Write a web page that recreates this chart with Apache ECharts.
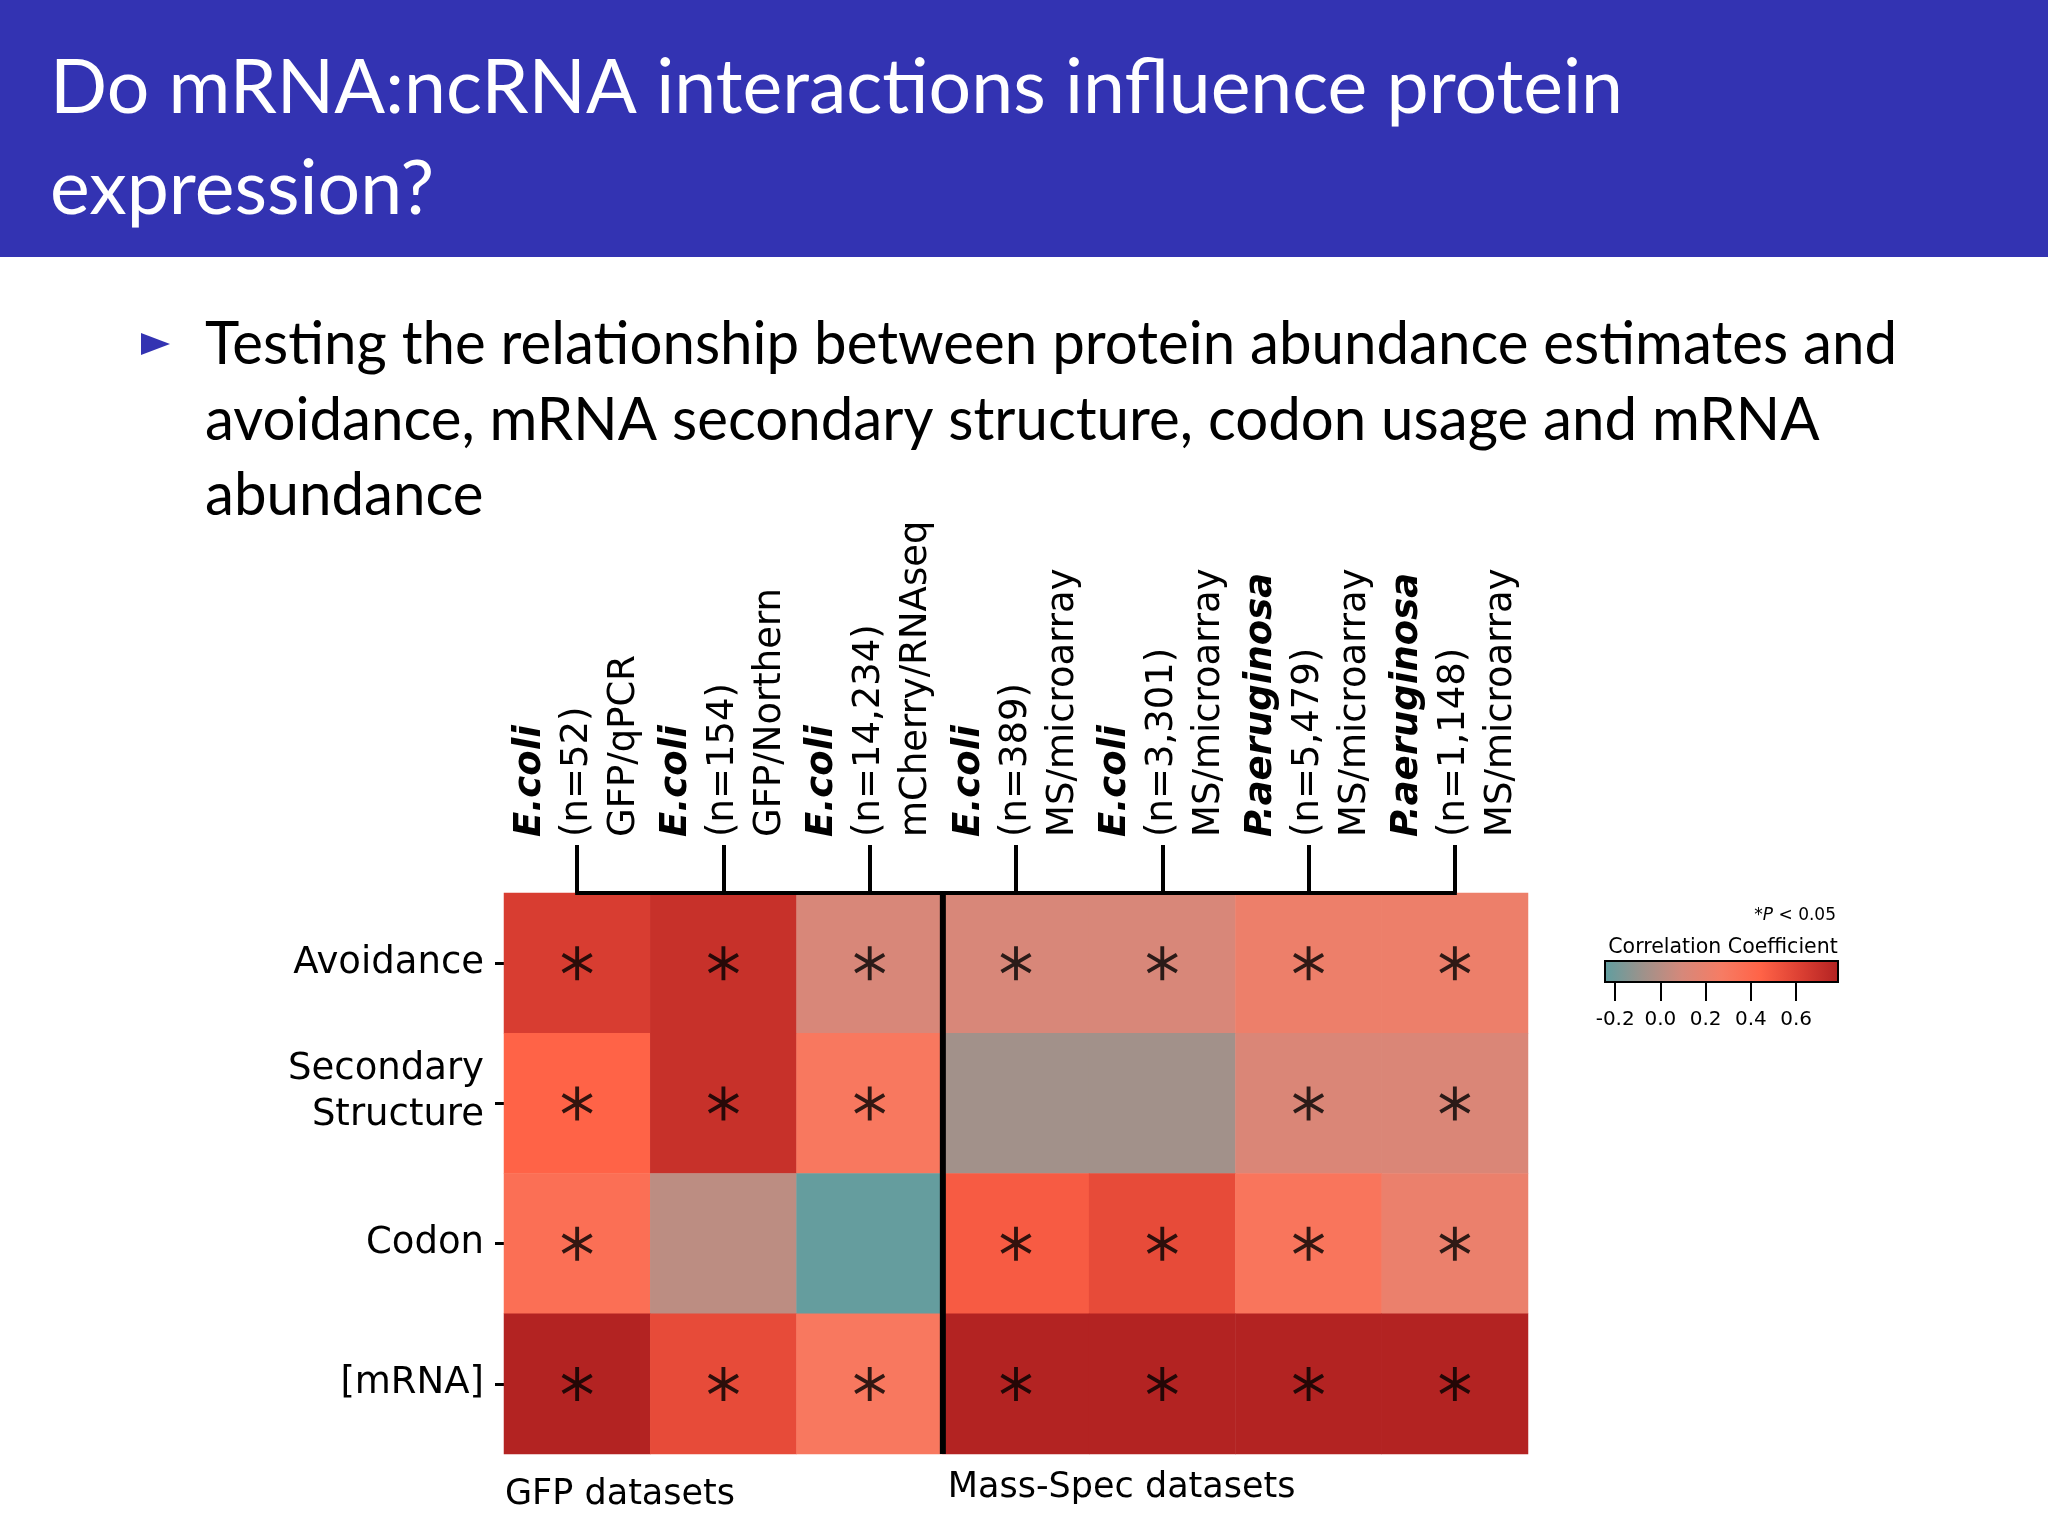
<!DOCTYPE html>
<html>
<head>
<meta charset="utf-8">
<script src="https://cdn.jsdelivr.net/npm/echarts@6/dist/echarts.min.js"></script>
<style>
html,body{margin:0;padding:0;background:#fff;}
#chart{width:2048px;height:1536px;}
</style>
</head>
<body>
<div id="chart"></div>
<script>
// ---------- data ----------
const titleLines = ['Do mRNA:ncRNA interactions influence protein', 'expression?'];
const bulletLines = [
  'Testing the relationship between protein abundance estimates and',
  'avoidance, mRNA secondary structure, codon usage and mRNA',
  'abundance'
];
const rowLabels = ['Avoidance', 'Secondary\nStructure', 'Codon', '[mRNA]'];
const species = ['E.coli', 'E.coli', 'E.coli', 'E.coli', 'E.coli', 'P.aeruginosa', 'P.aeruginosa'];
const sampleSizes = ['(n=52)', '(n=154)', '(n=14,234)', '(n=389)', '(n=3,301)', '(n=5,479)', '(n=1,148)'];
const methods = ['GFP/qPCR', 'GFP/Northern', 'mCherry/RNAseq', 'MS/microarray', 'MS/microarray', 'MS/microarray', 'MS/microarray'];

const corrAvoidance = [0.63, 0.70, 0.11, 0.11, 0.11, 0.22, 0.22];
const corrSecondary = [0.44, 0.70, 0.30, -0.06, -0.06, 0.12, 0.12];
const corrCodon     = [0.36, 0.02, -0.23, 0.48, 0.56, 0.32, 0.21];
const corrMRNA      = [0.78, 0.56, 0.30, 0.78, 0.78, 0.78, 0.78];

const sigAvoidance = [1, 1, 1, 1, 1, 1, 1];
const sigSecondary = [1, 1, 1, 0, 0, 1, 1];
const sigCodon     = [1, 0, 0, 1, 1, 1, 1];
const sigMRNA      = [1, 1, 1, 1, 1, 1, 1];

const groupLabels = ['GFP datasets', 'Mass-Spec datasets'];
const groupSizes = [3, 4];

const cbarRange = [-0.245, 0.785];
const cbarTicks = [-0.2, 0.0, 0.2, 0.4, 0.6];
const cmapColors = ['#5F9EA0', '#9E928B', '#D6887A', '#F67C64', '#FF6347', '#DC4033', '#B22222'];

// ---------- build ----------
const corrRows = [corrAvoidance, corrSecondary, corrCodon, corrMRNA];
const sigRows = [sigAvoidance, sigSecondary, sigCodon, sigMRNA];
const heatData = [];
const starData = [];
corrRows.forEach((row, r) => row.forEach((v, c) => {
  heatData.push([c, r, v]);
  if (sigRows[r][c]) starData.push([c, r]);
}));
const colNames = species.map((s, i) => s + ' ' + sampleSizes[i]);
const lastRow = rowLabels.length - 1;
const groupStarts = [];
let acc = 0;
groupSizes.forEach(g => { groupStarts.push([acc, lastRow]); acc += g; });

const starPath = 'path://M-1.15,-10 L1.15,-10 L1.15,10 L-1.15,10 Z ' +
  'M8.08,-6.0 L9.24,-4.0 L-8.08,6.0 L-9.24,4.0 Z ' +
  'M-9.24,-4.0 L-8.08,-6.0 L9.24,4.0 L8.08,6.0 Z';

function measure(text, font) {
  const ctx = document.createElement('canvas').getContext('2d');
  ctx.font = font;
  return ctx.measureText(text).width;
}
const titleSize = 76, bulletSize = 60, slideFont = 'Lato';
const titleScale = 1573 / measure(titleLines[0], titleSize + 'px ' + slideFont);
const bulletScale = 1692 / measure(bulletLines[0], bulletSize + 'px ' + slideFont);

const graphics = [
  { type: 'rect', shape: { x: 0, y: 0, width: 2048, height: 257 }, style: { fill: '#3333B2' }, z: 0 },
  { type: 'polygon', shape: { points: [[141, 333], [170, 344], [141, 355]] }, style: { fill: '#3333B2' } }
];
const titleBaselines = [114, 215];
titleLines.forEach((t, i) => graphics.push({
  type: 'text', x: 50, y: titleBaselines[i] - 0.33 * titleSize, scaleX: titleScale,
  style: { text: t, fontSize: titleSize, fontFamily: slideFont, fill: '#fff', textVerticalAlign: 'middle' }
}));
const bulletBaselines = [364, 440, 515];
bulletLines.forEach((t, i) => graphics.push({
  type: 'text', x: 205, y: bulletBaselines[i] - 0.33 * bulletSize, scaleX: bulletScale,
  style: { text: t, fontSize: bulletSize, fontFamily: slideFont, fill: '#000', textVerticalAlign: 'middle' }
}));
graphics.push({
  type: 'text', x: 1836, y: 916,
  style: {
    text: '{a|*}{b|P}{a| < 0.05}', textAlign: 'right', textVerticalAlign: 'middle',
    rich: {
      a: { fontSize: 17, fontFamily: 'DejaVu Sans', fill: '#000' },
      b: { fontSize: 17, fontFamily: 'DejaVu Sans', fontStyle: 'italic', fill: '#000' }
    }
  }
});
graphics.push({
  type: 'text', x: 1723, y: 948,
  style: { text: 'Correlation Coefficient', fontSize: 20.5, fontFamily: 'DejaVu Sans', fill: '#000',
           textAlign: 'center', textVerticalAlign: 'middle' }
});

const chart = echarts.init(document.getElementById('chart'), null, { renderer: 'canvas' });
const labelFont = 'DejaVu Sans';
chart.setOption({
  animation: false,
  backgroundColor: '#fff',
  graphic: graphics,
  grid: [
    { left: 504, top: 893, width: 1024, height: 561 },
    { left: 1605, top: 961, width: 233, height: 21 }
  ],
  xAxis: [
    {
      gridIndex: 0, type: 'category', position: 'top', data: colNames,
      axisLine: { show: false },
      axisTick: { show: true, alignWithLabel: true, interval: 0, length: 48, lineStyle: { color: '#000', width: 4 } },
      axisLabel: {
        rotate: -90, interval: 0, margin: 56,
        formatter: (v, i) => '{sp|' + species[i] + '}\n{n|' + sampleSizes[i] + '}\n{m|' + methods[i] + '}',
        rich: {
          sp: { fontSize: 37, fontFamily: labelFont, fontWeight: 'bold', fontStyle: 'italic', color: '#000', lineHeight: 47 },
          n: { fontSize: 37, fontFamily: labelFont, color: '#000', lineHeight: 47 },
          m: { fontSize: 37, fontFamily: labelFont, color: '#000', lineHeight: 47 }
        }
      },
      splitLine: { show: false }
    },
    {
      gridIndex: 1, type: 'value', min: cbarRange[0], max: cbarRange[1], position: 'bottom',
      axisLine: { show: false },
      splitLine: { show: false },
      axisTick: { show: true, customValues: cbarTicks, length: 19, lineStyle: { color: '#000', width: 2 } },
      axisLabel: { customValues: cbarTicks, formatter: v => v.toFixed(1), margin: 28,
                   fontSize: 20, fontFamily: labelFont, color: '#000' }
    }
  ],
  yAxis: [
    {
      gridIndex: 0, type: 'category', data: rowLabels, inverse: true,
      axisLine: { show: false },
      axisTick: { show: true, alignWithLabel: true, length: 9, lineStyle: { color: '#000', width: 3 } },
      axisLabel: {
        fontSize: 37, fontFamily: labelFont, color: '#000', margin: 20, lineHeight: 46, align: 'right',
        formatter: v => v.indexOf('\n') < 0 ? v :
          v.split('\n').map(s => '{two|' + s + '}').join('\n') + '\n{gap| }',
        rich: {
          two: { fontSize: 37, fontFamily: labelFont, color: '#000', lineHeight: 46, align: 'right' },
          gap: { fontSize: 4, lineHeight: 22 }
        }
      },
      splitLine: { show: false }
    },
    { gridIndex: 1, type: 'value', min: 0, max: 1, show: false }
  ],
  visualMap: {
    type: 'continuous', show: false, seriesIndex: 0, dimension: 2,
    min: cbarRange[0], max: cbarRange[1], inRange: { color: cmapColors }
  },
  series: [
    {
      type: 'heatmap', xAxisIndex: 0, yAxisIndex: 0, data: heatData,
      itemStyle: { borderWidth: 0 }, emphasis: { disabled: true }, z: 1
    },
    {
      type: 'scatter', xAxisIndex: 0, yAxisIndex: 0, data: starData,
      symbol: starPath, symbolSize: [31, 34], symbolKeepAspect: false,
      itemStyle: { color: '#000' }, z: 3, silent: true
    },
    {
      // bracket joining the dataset ticks
      type: 'custom', xAxisIndex: 0, yAxisIndex: 0, z: 4, silent: true,
      data: [[0, colNames.length - 1]],
      encode: { x: [0, 1] },
      renderItem: (params, api) => {
        const p0 = api.coord([api.value(0), 0]);
        const p1 = api.coord([api.value(1), 0]);
        const s = api.size([1, 1]);
        const yTop = p0[1] - s[1] / 2;
        return { type: 'line', shape: { x1: p0[0] - 2, y1: yTop, x2: p1[0] + 2, y2: yTop },
                 style: { stroke: '#000', lineWidth: 4 } };
      }
    },
    {
      // separator between dataset groups + group labels
      type: 'custom', xAxisIndex: 0, yAxisIndex: 0, z: 4, silent: true,
      data: groupStarts,
      encode: { x: 0, y: 1 },
      renderItem: (params, api) => {
        const start = api.value(0);
        const s = api.size([1, 1]);
        const pTop = api.coord([start, 0]);
        const pBot = api.coord([start, api.value(1)]);
        const xLeft = pTop[0] - s[0] / 2;
        const yTop = pTop[1] - s[1] / 2;
        const yBot = pBot[1] + s[1] / 2;
        const first = params.dataIndex === 0;
        const children = [{
          type: 'text', x: xLeft + (first ? 1 : 5), y: yBot + (first ? 41 : 34),
          style: { text: groupLabels[params.dataIndex], fontSize: 35, fontFamily: labelFont, fill: '#000',
                   textAlign: 'left', textVerticalAlign: 'middle' }
        }];
        if (!first) {
          children.push({ type: 'line', shape: { x1: xLeft, y1: yTop - 2, x2: xLeft, y2: yBot },
                          style: { stroke: '#000', lineWidth: 6 } });
        }
        return { type: 'group', children };
      }
    },
    {
      // colour bar
      type: 'custom', xAxisIndex: 1, yAxisIndex: 1, silent: true,
      data: [[cbarRange[0], cbarRange[1]]],
      encode: { x: [0, 1] },
      renderItem: (params, api) => {
        const a = api.coord([api.value(0), 0]);
        const b = api.coord([api.value(1), 1]);
        const n = cmapColors.length;
        return {
          type: 'rect',
          shape: { x: a[0], y: b[1], width: b[0] - a[0], height: a[1] - b[1] },
          style: {
            fill: new echarts.graphic.LinearGradient(0, 0, 1, 0,
              cmapColors.map((c, i) => ({ offset: i / (n - 1), color: c }))),
            stroke: '#000', lineWidth: 2
          }
        };
      }
    }
  ]
});
</script>
</body>
</html>
